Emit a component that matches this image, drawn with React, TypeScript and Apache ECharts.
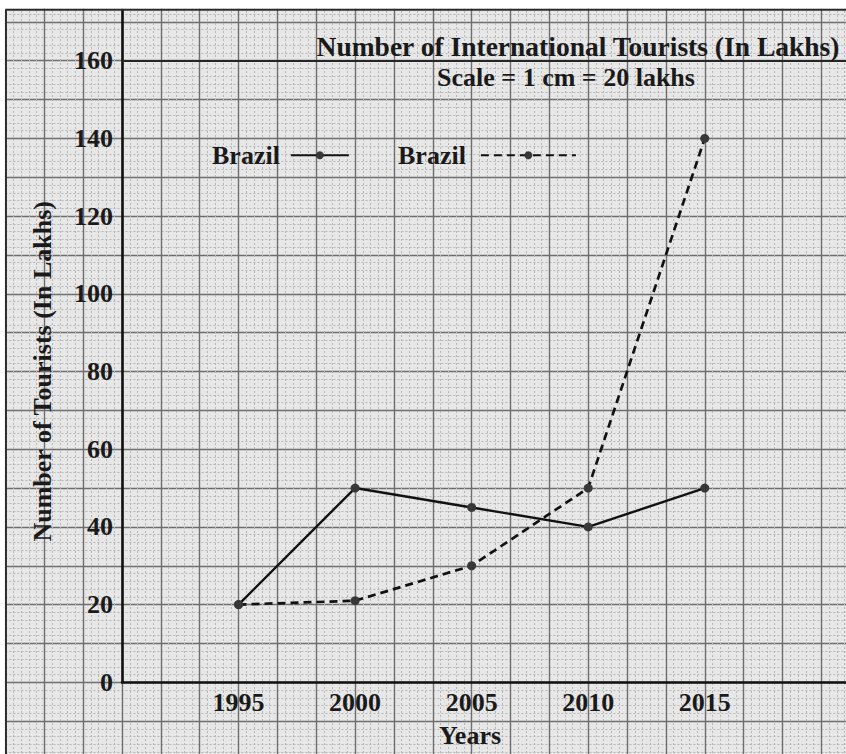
import React, { useEffect, useRef } from 'react';
import * as echarts from 'echarts';

// ---- data ----
const years = [1995, 2000, 2005, 2010, 2015];
const solidValues = [20, 50, 45, 40, 50];
const dashedValues = [20, 21, 30, 50, 140];
const yTickLabels = [0, 20, 40, 60, 80, 100, 120, 140, 160];
const legendLabel = 'Brazil';
const solidName = 'Brazil (solid line)';
const dashedName = 'Brazil (dashed line)';
const titleText = 'Number of International Tourists (In Lakhs)';
const subtitleText = 'Scale = 1 cm = 20 lakhs';
const xAxisTitle = 'Years';
const yAxisTitle = 'Number of Tourists (In Lakhs)';

// ---- layout ----
const CELL = 38.85; // one major graph-paper square, px
const OY = 17.3; // chart div is shifted up by this much so squares line up
const FONT = '"Liberation Serif", "Times New Roman", serif';
const INK = '#1a1a1a';

export default function App() {
  const ref = useRef<HTMLDivElement>(null);

  useEffect(() => {
    const chart = echarts.init(ref.current!, null, { renderer: 'svg' });

    const pageW = 846;
    const axisX0 = 122;
    const axisY0 = 682 + OY;
    const paperTop = 9.5 + OY;
    const paperLeft = 5.45;
    const pxPerYear = (CELL * 3) / 5;
    const pxPerUnit = (CELL * 2) / 20;
    const gridBWidth = pageW - axisX0;
    const gridBHeight = axisY0 - paperTop;
    const xMin = 1990;
    const xMax = xMin + gridBWidth / pxPerYear;
    const yMax = gridBHeight / pxPerUnit;

    const textBase = { fontFamily: FONT, fontWeight: 'bold' as const, color: INK };

    const option: any = {
      animation: false,
      backgroundColor: '#ffffff',
      title: [
        {
          text: titleText,
          left: 578,
          top: 46 + OY - 14,
          textAlign: 'center',
          padding: 0,
          textStyle: { ...textBase, fontSize: 27.5 },
        },
        {
          text: subtitleText,
          left: 566,
          top: 77 + OY - 13,
          textAlign: 'center',
          padding: 0,
          textStyle: { ...textBase, fontSize: 26 },
        },
      ],
      legend: [
        {
          data: [solidName],
          left: 212,
          top: 155 + OY - 13,
          padding: 0,
          align: 'right',
          itemWidth: 58,
          itemHeight: 10,
          formatter: () => legendLabel,
          textStyle: { ...textBase, fontSize: 26, padding: [0, 6, 0, 0] },
          selectedMode: false,
        },
        {
          data: [dashedName],
          left: 398,
          top: 155 + OY - 13,
          padding: 0,
          align: 'right',
          itemWidth: 95,
          itemHeight: 10,
          formatter: () => legendLabel,
          textStyle: { ...textBase, fontSize: 26, padding: [0, 10, 0, 0] },
          selectedMode: false,
        },
      ],
      grid: [
        {
          // graph paper
          left: paperLeft,
          top: 0,
          width: CELL * 22,
          height: CELL * 20,
          show: true,
          backgroundColor: '#e7e7e7',
          borderWidth: 0,
        },
        {
          // data area
          left: axisX0,
          top: paperTop,
          width: gridBWidth,
          height: gridBHeight,
        },
      ],
      xAxis: [
        {
          gridIndex: 0,
          type: 'value',
          min: 0,
          max: 22,
          interval: 1,
          axisLine: { show: false },
          axisTick: { show: false },
          axisLabel: { show: false },
          splitLine: { show: true, lineStyle: { color: '#6e6e6e', width: 1.4 } },
          minorTick: { show: false, splitNumber: 5 },
          minorSplitLine: { show: true, lineStyle: { color: '#b6b6b6', width: 1, type: [2, 2] } },
          silent: true,
        },
        {
          gridIndex: 1,
          type: 'value',
          min: xMin,
          max: xMax,
          interval: 5,
          axisLine: { show: true, onZero: false, lineStyle: { color: '#111', width: 2.6 } },
          axisTick: { show: false },
          splitLine: { show: false },
          axisLabel: {
            ...textBase,
            fontSize: 26,
            margin: 7,
            formatter: (v: number) => (years.includes(Math.round(v)) && Math.abs(v - Math.round(v)) < 1e-6 ? String(Math.round(v)) : ''),
          },
        },
      ],
      yAxis: [
        {
          gridIndex: 0,
          type: 'value',
          min: 0,
          max: 20,
          interval: 1,
          axisLine: { show: false },
          axisTick: { show: false },
          axisLabel: { show: false },
          splitLine: { show: true, lineStyle: { color: '#6e6e6e', width: 1.4 } },
          minorTick: { show: false, splitNumber: 5 },
          minorSplitLine: { show: true, lineStyle: { color: '#b6b6b6', width: 1, type: [2, 2] } },
          silent: true,
        },
        {
          gridIndex: 1,
          type: 'value',
          min: 0,
          max: yMax,
          interval: 20,
          axisLine: { show: true, onZero: false, lineStyle: { color: '#111', width: 2.6 } },
          axisTick: { show: false },
          splitLine: { show: false },
          axisLabel: {
            ...textBase,
            fontSize: 26,
            margin: 9,
            formatter: (v: number) => (yTickLabels.includes(v) ? String(v) : ''),
          },
        },
      ],
      series: [
        {
          name: solidName,
          type: 'line',
          xAxisIndex: 1,
          yAxisIndex: 1,
          data: years.map((y, i) => [y, solidValues[i]]),
          symbol: 'circle',
          symbolSize: 9,
          itemStyle: { color: '#383838' },
          lineStyle: { color: '#121212', width: 2.4, type: 'solid' },
          z: 5,
          markLine: {
            silent: true,
            symbol: ['none', 'none'],
            label: { show: false },
            lineStyle: { color: '#262626', width: 2.2, type: 'solid' },
            data: [{ yAxis: 160 }],
          },
        },
        {
          name: dashedName,
          type: 'line',
          xAxisIndex: 1,
          yAxisIndex: 1,
          data: years.map((y, i) => [y, dashedValues[i]]),
          symbol: 'circle',
          symbolSize: 9,
          itemStyle: { color: '#383838' },
          lineStyle: { color: '#121212', width: 2.7, type: [8, 5] },
          z: 5,
        },
      ],
      graphic: [
        { type: 'rect', z: 100, shape: { x: 0, y: 0, width: 870, height: paperTop - 1 }, style: { fill: '#ffffff' } },
        { type: 'rect', z: 100, shape: { x: 0, y: 0, width: paperLeft, height: 800 }, style: { fill: '#ffffff' } },
        { type: 'line', z: 101, shape: { x1: paperLeft, y1: paperTop, x2: 870, y2: paperTop }, style: { stroke: '#2c2c2c', lineWidth: 2 } },
        { type: 'line', z: 101, shape: { x1: paperLeft + 0.5, y1: paperTop, x2: paperLeft + 0.5, y2: 800 }, style: { stroke: '#2c2c2c', lineWidth: 2 } },
        {
          type: 'text',
          z: 102,
          x: 42,
          y: 371 + OY,
          rotation: Math.PI / 2,
          style: { text: yAxisTitle, fontSize: 26, fontWeight: 'bold', fontFamily: FONT, fill: INK, align: 'center', verticalAlign: 'middle' },
        },
        {
          type: 'text',
          z: 102,
          x: 470,
          y: 735 + OY,
          style: { text: xAxisTitle, fontSize: 26, fontWeight: 'bold', fontFamily: FONT, fill: INK, align: 'center', verticalAlign: 'middle' },
        },
      ],
    };

    chart.setOption(option);
    return () => chart.dispose();
  }, []);

  return (
    <div style={{ position: 'fixed', left: 0, top: 0, width: 846, height: 754, overflow: 'hidden', background: '#fff' }}>
      <div ref={ref} style={{ position: 'absolute', left: 0, top: -OY, width: 862, height: 778 }} />
    </div>
  );
}
